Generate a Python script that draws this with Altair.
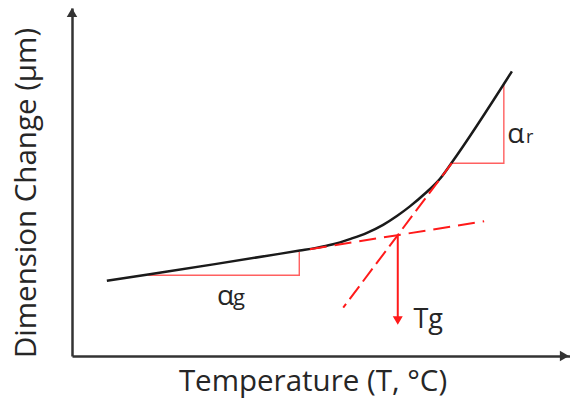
import altair as alt
import pandas as pd

# --- data (schematic units: temperature 0-100, dimension change 0-100) ---
curve_t = [6.9, 15.4, 28.3, 45.1, 48.1, 51.7, 55.0, 58.4, 61.6, 64.4, 66.9, 69.9, 72.9, 75.2, 87.1]
curve_d = [21.6, 23.5, 26.4, 30.3, 31.0, 32.1, 33.6, 35.4, 37.7, 40.3, 43.0, 46.7, 51.0, 55.6, 81.8]

glass_tan_t = [47.1, 81.6]
glass_tan_d = [30.7, 38.7]
rubber_tan_t = [75.2, 53.7]
rubber_tan_d = [55.4, 13.9]

tri_g_t = [15.1, 45.0, 45.0]
tri_g_d = [23.2, 23.2, 29.9]
tri_r_t = [75.2, 85.5, 85.5]
tri_r_d = [55.4, 55.4, 78.0]

tg_t = 64.5
tg_arrow_d = [34.7, 10.8]
tg_head_d = 10.2

labels = ["α", "g", "α", "r", "Tg"]
label_t = [28.7, 31.9, 86.2, 89.9, 67.6]
label_d = [14.6, 14.6, 61.3, 61.3, 8.0]
label_size = [28, 22, 28, 18, 27]

axis_head_t = [0.0, 97.5]
axis_head_d = [98.7, 0.0]
axis_head_shape = ["triangle-up", "triangle-right"]

FONT = "Open Sans"
RED = "#ff1a1a"

xs = alt.Scale(domain=[0, 98.6], nice=False)
ys = alt.Scale(domain=[0, 100], nice=False)

def seq_df(t, d):
    return pd.DataFrame({"t": t, "d": d, "i": list(range(len(t)))})

x_axis = alt.Axis(title="Temperature (T, °C)", domain=True, domainColor="#333333", domainWidth=2.5,
                  ticks=False, labels=False, grid=False, titleFont=FONT, titleFontSize=29.5,
                  titleFontWeight="normal", titleColor="#262626", titleX=240.5, titleY=34.5,
                  titleBaseline="alphabetic", titleAlign="center")
y_axis = alt.Axis(title="Dimension Change (μm)", domain=True, domainColor="#333333", domainWidth=2.5,
                  ticks=False, labels=False, grid=False, titleFont=FONT, titleFontSize=29.5,
                  titleFontWeight="normal", titleColor="#262626", titleAngle=270, titleX=-46, titleY=184.5,
                  titleBaseline="middle", titleAlign="center")

base_x = alt.X("t:Q", scale=xs, axis=x_axis)
base_y = alt.Y("d:Q", scale=ys, axis=y_axis)

tri_g = alt.Chart(seq_df(tri_g_t, tri_g_d)).mark_line(color="#ff6060", strokeWidth=1.4).encode(
    x=base_x, y=base_y, order="i:Q")
tri_r = alt.Chart(seq_df(tri_r_t, tri_r_d)).mark_line(color="#ff6060", strokeWidth=1.4).encode(
    x="t:Q", y="d:Q", order="i:Q")

curve = alt.Chart(seq_df(curve_t, curve_d)).mark_line(color="#1a1a1a", strokeWidth=2.5, interpolate="monotone").encode(
    x="t:Q", y="d:Q", order="i:Q")

glass_tan = alt.Chart(seq_df(glass_tan_t, glass_tan_d)).mark_line(color=RED, strokeWidth=2, strokeDash=[17, 8]).encode(
    x="t:Q", y="d:Q", order="i:Q")
rubber_tan = alt.Chart(seq_df(rubber_tan_t, rubber_tan_d)).mark_line(color=RED, strokeWidth=2, strokeDash=[16, 6]).encode(
    x="t:Q", y="d:Q", order="i:Q")

arrow = alt.Chart(pd.DataFrame({"t": [tg_t, tg_t], "d": tg_arrow_d, "i": [0, 1]})).mark_line(
    color=RED, strokeWidth=2).encode(x="t:Q", y="d:Q", order="i:Q")
arrow_head = alt.Chart(pd.DataFrame({"t": [tg_t], "d": [tg_head_d]})).mark_point(
    shape="triangle-down", filled=True, color=RED, size=100, opacity=1).encode(x="t:Q", y="d:Q")

axis_heads = alt.Chart(pd.DataFrame({"t": axis_head_t, "d": axis_head_d, "s": axis_head_shape})).mark_point(
    filled=True, color="#333333", size=110, opacity=1).encode(
    x="t:Q", y="d:Q", shape=alt.Shape("s:N", scale=None, legend=None))

text = alt.Chart(pd.DataFrame({"t": label_t, "d": label_d, "txt": labels, "fs": label_size})).mark_text(
    font=FONT, color="#262626", align="left", baseline="alphabetic").encode(
    x="t:Q", y="d:Q", text="txt:N", size=alt.Size("fs:Q", scale=None, legend=None))

chart = alt.layer(tri_g, tri_r, curve, glass_tan, rubber_tan, arrow, arrow_head, axis_heads, text).properties(
    width=498, height=348,
    padding={"left": 64, "top": 0, "right": 0, "bottom": 42},
    autosize=alt.AutoSizeParams(type="none"),
    background="white",
).configure_view(stroke=None)

chart.save("out.html", embed_options={"renderer": "svg", "actions": False})
